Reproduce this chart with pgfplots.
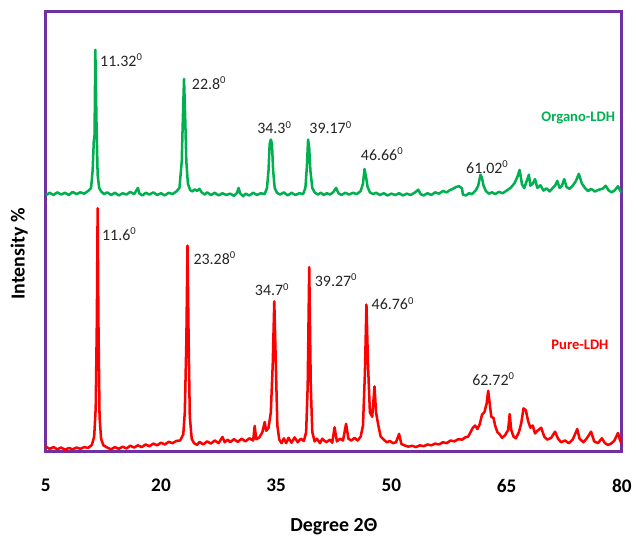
\documentclass[border=0pt]{standalone}
\usepackage{fontspec}
\setmainfont{Carlito}
\usepackage{pgfplots}
\pgfplotsset{compat=1.18}
\definecolor{framepurple}{HTML}{7030A0}
\definecolor{organo}{HTML}{00B050}
\definecolor{pure}{HTML}{FF0000}
\definecolor{annotgray}{HTML}{262626}

\begin{document}
\begin{tikzpicture}[
    lbl/.style={anchor=west, font=\fontsize{12}{12}\selectfont, text=annotgray, inner sep=0pt},
    series/.style={anchor=west, inner sep=0pt, font=\bfseries\fontsize{11}{11}\selectfont},
]
\begin{axis}[
    scale only axis,
    width=434pt, height=331.5pt,
    xmin=5, xmax=80, ymin=0, ymax=100,
    xtick={5,20,35,50,65,80},
    ytick=\empty,
    major tick length=0pt,
    axis line style={draw=framepurple, line width=2.2pt},
    /pgf/number format/assume math mode=true,
    tick label style={font=\bfseries\fontsize{14.5}{14.5}\selectfont},
    xticklabel style={yshift=-17pt},
    xlabel={Degree 2Θ},
    xlabel style={font=\bfseries\fontsize{15}{15}\selectfont, at={(axis description cs:0.5,-0.17)}, anchor=center},
    ylabel={Intensity \%},
    ylabel style={font=\bfseries\fontsize{15}{15}\selectfont, at={(axis description cs:-0.046,0.45)}, anchor=center},
]

% Organo-LDH
\addplot[color=organo, line width=1.9pt, line join=round] coordinates {
(5,58.3)(5.5,58.9)(6,58.4)(6.5,59.0)(7,58.5)(7.5,58.9)(8,58.4)(8.5,59.1)(9,58.6)(9.5,59.0)
(10,58.7)(10.5,59.3)(10.9,60)(11.1,64)(11.25,70.7)(11.35,72)(11.45,91.4)(11.6,75)(11.75,63)(11.95,60)
(12.2,59.2)(12.6,58.6)(13,59.0)(13.5,58.4)(14,58.9)(14.5,58.3)(15,58.8)(15.5,58.5)(16,59.1)(16.5,58.6)
(17.0,60.0)(17.2,58.7)(17.6,58.3)(18,58.9)(18.5,58.5)(19,59.0)(19.5,58.4)(20,58.8)(20.5,58.3)(21,58.9)
(21.5,58.6)(22,59.2)(22.4,60)(22.7,66)(22.85,76)(23.0,84.8)(23.15,76)(23.3,66)(23.5,61)(23.8,59.5)
(24.1,59.2)(24.4,59.7)(24.7,59.3)(25.0,59.8)(25.3,59.0)(25.7,58.5)(26,59.0)(26.5,58.4)(27,58.9)(27.5,58.3)
(28,58.8)(28.5,58.4)(29,58.7)(29.5,58.2)(29.9,58.9)(30.1,60.0)(30.3,58.8)(30.7,58.1)(31,58.7)(31.5,58.3)
(32,58.9)(32.5,58.4)(33,58.8)(33.5,58.6)(33.8,60)(34.0,64)(34.15,70)(34.3,71)(34.45,70)(34.6,64)
(34.8,60)(35.1,58.9)(35.5,58.5)(36,59.0)(36.5,58.3)(37,58.9)(37.5,58.4)(38,58.8)(38.5,58.6)(38.8,60)
(39.0,65)(39.15,71)(39.3,69)(39.45,64)(39.7,60)(40,59.0)(40.4,58.5)(40.8,58.9)(41.2,58.4)(41.6,58.8)
(42,58.5)(42.4,59.0)(42.8,60.0)(43.1,58.8)(43.5,58.4)(44,58.9)(44.5,58.5)(45,58.9)(45.5,58.6)(46,59.3)
(46.3,61)(46.5,64.3)(46.7,62.5)(46.9,60.2)(47.2,59.0)(47.6,58.6)(48,58.9)(48.5,58.4)(49,58.8)(49.5,58.3)
(50,58.7)(50.5,58.4)(51,58.8)(51.5,58.3)(52,58.7)(52.5,58.4)(53,58.9)(53.5,59.6)(53.8,58.6)(54.2,58.3)
(54.7,58.8)(55.2,58.4)(55.7,59.0)(56.2,58.7)(56.7,59.3)(57.2,59.0)(57.6,59.5)(58.0,59.8)(58.4,60.2)(58.8,60.4)
(59.2,59.9)(59.3,58.5)(59.7,58.3)(60.1,58.8)(60.5,58.6)(61.0,59.5)(61.3,60.5)(61.6,63)(61.8,62.2)(62.0,60.5)
(62.3,59.3)(62.7,58.7)(63.1,59.0)(63.5,58.6)(64,59.1)(64.5,58.8)(65,59.4)(65.5,60.0)(66.0,61.0)(66.4,62.5)
(66.7,64.1)(67.0,60.8)(67.3,60.0)(67.6,61.5)(67.9,63.0)(68.1,60.5)(68.4,61.0)(68.7,62.0)(69.0,60.0)(69.4,60.6)
(69.8,59.4)(70.2,59.9)(70.6,59.2)(71.0,60.0)(71.3,60.5)(71.6,61.6)(71.9,60.0)(72.2,60.5)(72.5,62.0)(72.8,60.2)
(73.2,59.8)(73.6,60.5)(74.0,61.5)(74.4,63.2)(74.8,61.0)(75.2,60.0)(75.6,59.3)(76.0,59.8)(76.5,59.2)(77.0,59.6)
(77.5,59.8)(77.9,60.5)(78.3,59.4)(78.7,59.0)(79.1,59.5)(79.5,60.4)(79.8,59.3)(80,59.0)
};

% Pure-LDH
\addplot[color=pure, line width=1.9pt, line join=round] coordinates {
(5,1.2)(5.5,0.7)(6,1.1)(6.5,0.6)(7,1.0)(7.5,0.5)(8,0.9)(8.5,0.6)(9,1.0)(9.5,0.7)
(10,1.1)(10.5,0.9)(11,1.6)(11.3,3.5)(11.5,10)(11.65,30)(11.75,55.4)(11.85,30)(12.0,8)(12.2,3)
(12.5,1.5)(13,1.0)(13.5,0.6)(14,1.1)(14.5,0.7)(15,1.2)(15.5,0.8)(16,1.4)(16.5,1.0)(17,1.5)
(17.5,1.1)(18,1.7)(18.5,1.3)(19,1.9)(19.5,1.5)(20,2.1)(20.5,1.7)(21,2.3)(21.5,2.0)(22,2.5)
(22.5,2.6)(22.9,4)(23.1,9)(23.3,25)(23.45,46.9)(23.6,25)(23.75,8)(24.0,3)(24.3,2.0)(24.7,1.6)
(25,2.3)(25.5,1.7)(26,2.4)(26.5,1.9)(27,2.6)(27.5,2.0)(28,3.4)(28.3,2.2)(28.7,2.8)(29,2.2)
(29.5,2.9)(30,2.3)(30.5,3.0)(31,2.4)(31.5,3.1)(32,2.6)(32.2,5.9)(32.4,2.9)(32.8,3.3)(33.2,4.5)
(33.5,6.8)(33.7,4.8)(34.0,5.5)(34.3,9)(34.55,20)(34.75,34.2)(34.95,20)(35.15,6)(35.4,2.8)(35.7,2.0)
(36,3.1)(36.3,2.0)(36.6,3.2)(37,2.1)(37.4,3.3)(37.8,2.2)(38.2,3.0)(38.6,2.5)(38.9,4.5)(39.1,15)
(39.3,42)(39.5,15)(39.7,4.5)(40.0,2.4)(40.3,3.0)(40.7,2.0)(41,3.0)(41.5,2.2)(42,2.8)(42.3,2.1)
(42.6,5.6)(42.9,2.4)(43.3,3.0)(43.7,2.6)(44.1,6.4)(44.4,3.0)(44.8,2.6)(45.2,3.2)(45.6,2.6)(46,3.5)
(46.3,6)(46.55,18)(46.75,33.5)(46.95,20)(47.2,9)(47.5,8)(47.8,14.9)(48.0,9)(48.3,6)(48.6,3.5)
(49,2.8)(49.4,2.2)(49.8,2.5)(50.2,2.0)(50.6,2.2)(51.0,4.1)(51.3,1.8)(51.7,1.5)(52.2,1.2)(52.7,1.4)
(53.2,1.1)(53.7,1.5)(54.2,1.3)(54.7,1.7)(55.2,1.5)(55.7,1.9)(56.2,1.7)(56.7,2.2)(57.2,2.0)(57.7,2.6)
(58.2,2.4)(58.7,2.9)(59.2,2.8)(59.6,3.3)(60.0,3.5)(60.3,4.5)(60.6,5.5)(60.9,6.0)(61.2,5.2)(61.5,6.3)
(61.8,8.5)(62.1,9)(62.4,11)(62.6,13.9)(62.8,11)(63.0,8)(63.3,7.7)(63.5,6)(63.8,4.5)(64.1,4)
(64.4,3.2)(64.8,3.8)(65.2,5)(65.4,8.6)(65.6,5)(65.9,3.5)(66.2,3.1)(66.6,4.5)(66.9,6.5)(67.2,9.9)
(67.5,9.5)(67.8,7)(68.1,5.5)(68.4,6)(68.7,4.2)(69.0,4.8)(69.5,5.5)(69.9,3.5)(70.3,2.8)(70.8,3.2)
(71.3,4.6)(71.7,3.0)(72.1,2.2)(72.6,2.6)(73.1,2.0)(73.6,2.8)(74.2,5.2)(74.5,3.0)(75.0,2.2)(75.4,3.0)
(76.0,4.6)(76.4,2.4)(76.9,2.0)(77.4,3.1)(77.8,2.0)(78.2,1.6)(78.6,1.9)(79.0,2.5)(79.5,4.3)(79.8,2.5)
(80,1.8)
};

% peak labels
\node[lbl] at (axis cs:12.05,89.1) {11.32\textsuperscript{0}};
\node[lbl] at (axis cs:24.0,83.9) {22.8\textsuperscript{0}};
\node[lbl] at (axis cs:32.5,73.7) {34.3\textsuperscript{0}};
\node[lbl] at (axis cs:39.3,73.7) {39.17\textsuperscript{0}};
\node[lbl] at (axis cs:46.0,67.6) {46.66\textsuperscript{0}};
\node[lbl] at (axis cs:59.7,64.8) {61.02\textsuperscript{0}};
\node[lbl] at (axis cs:12.3,49.5) {11.6\textsuperscript{0}};
\node[lbl] at (axis cs:24.2,44.0) {23.28\textsuperscript{0}};
\node[lbl] at (axis cs:32.2,36.9) {34.7\textsuperscript{0}};
\node[lbl] at (axis cs:40.0,39.1) {39.27\textsuperscript{0}};
\node[lbl] at (axis cs:47.4,33.7) {46.76\textsuperscript{0}};
\node[lbl] at (axis cs:60.5,16.5) {62.72\textsuperscript{0}};
\node[series, text=organo] at (axis cs:69.5,75.8) {Organo-LDH};
\node[series, text=pure] at (axis cs:70.8,24.3) {Pure-LDH};
\end{axis}
\path[use as bounding box] (-34.5pt,-64.5pt) rectangle (442.25pt,340.5pt);
\end{tikzpicture}
\end{document}
